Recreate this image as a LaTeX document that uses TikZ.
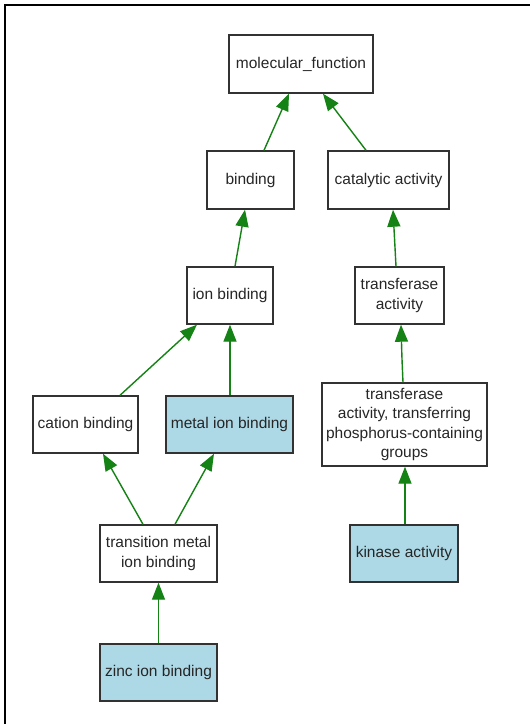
\documentclass[tikz,border=0pt]{standalone}
\usepackage{fontspec}
\setmainfont{Liberation Sans}
\usetikzlibrary{arrows.meta}
\definecolor{edgegreen}{RGB}{20,130,20}
\definecolor{boxline}{RGB}{50,50,50}
\definecolor{hilite}{RGB}{173,216,230}
\begin{document}
\begin{tikzpicture}[x=1pt,y=-1pt,
  term/.style={draw=boxline,line width=1.4pt,fill=white,inner sep=0pt,align=center,
    font=\fontsize{15.5}{19.3}\selectfont,text=black!85},
  hit/.style={term,fill=hilite},
  isa/.style={draw=edgegreen,line width=1.4pt,-{Triangle[length=17pt,width=13pt]}}]
\useasboundingbox (0,0) rectangle (530,724);
\fill[white] (0,0) rectangle (530,724);
\draw[line width=2.2pt,black] (5,724) -- (5,5) -- (530,5);
\node[term,minimum width=144pt,minimum height=58pt] (mf) at (301,64) {molecular\_function};
\node[term,minimum width=87pt,minimum height=58pt] (bind) at (250.5,180) {binding};
\node[term,minimum width=121pt,minimum height=58pt] (cat) at (388.5,180) {catalytic activity};
\node[term,minimum width=86pt,minimum height=57pt] (ion) at (230,295.5) {ion binding};
\node[term,minimum width=89pt,minimum height=57pt] (tra) at (399.5,295.5) {transferase\\activity};
\node[term,minimum width=105pt,minimum height=57pt] (cat2) at (85.5,424.5) {cation binding};
\node[hit,minimum width=127pt,minimum height=57pt] (metal) at (229.5,424.5) {metal ion binding};
\node[term,minimum width=165pt,minimum height=83pt] (tapt) at (404.5,424.5) {transferase\\activity, transferring\\phosphorus-containing\\groups};
\node[term,minimum width=117pt,minimum height=57pt] (trans) at (158.5,553.5) {transition metal\\ion binding};
\node[hit,minimum width=108pt,minimum height=57pt] (kin) at (404,553.5) {kinase activity};
\node[hit,minimum width=117pt,minimum height=57pt] (zinc) at (158.5,672.5) {zinc ion binding};
\draw[isa] (bind.north -| 264,0) -- (mf.south -| 289,0);
\draw[isa] (cat.north -| 366,0) -- (mf.south -| 323,0);
\draw[isa] (ion.north -| 235,0) -- (bind.south -| 245,0);
\draw[isa] (tra.north -| 396,0) -- (cat.south -| 393,0);
\draw[isa] (cat2.north -| 120,0) -- (ion.south -| 197,0);
\draw[isa] (metal.north -| 230,0) -- (ion.south -| 230,0);
\draw[isa] (tapt.north -| 403,0) .. controls (402,360) .. (tra.south -| 401,0);
\draw[isa] (trans.north -| 143,0) -- (cat2.south -| 103,0);
\draw[isa] (trans.north -| 175,0) -- (metal.south -| 214,0);
\draw[isa] (kin.north -| 405,0) -- (tapt.south -| 405,0);
\draw[isa] (zinc) -- (trans);
\end{tikzpicture}
\end{document}
